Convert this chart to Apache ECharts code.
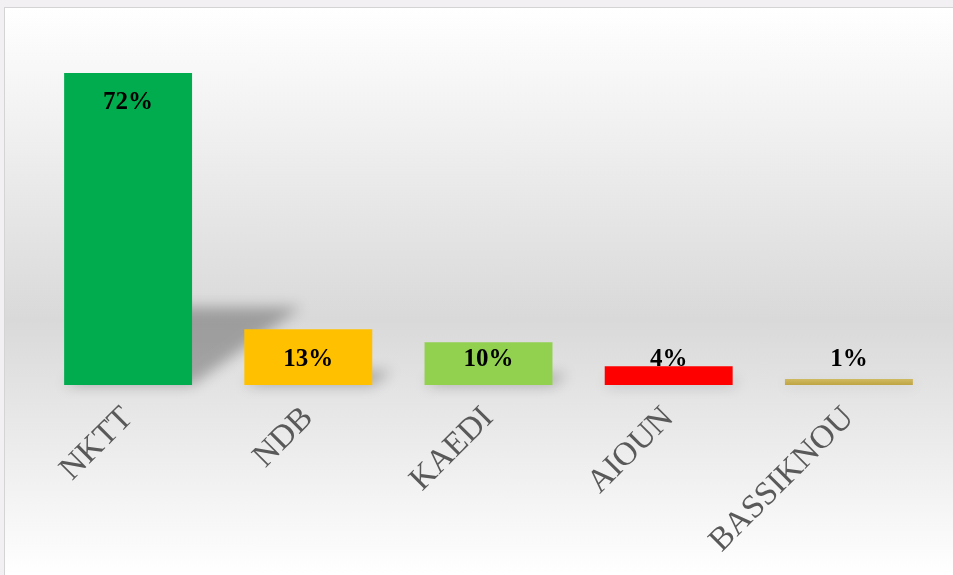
<!DOCTYPE html>
<html>
<head>
<meta charset="utf-8">
<script src="https://cdn.jsdelivr.net/npm/echarts@6/dist/echarts.min.js"></script>
<style>
html,body{margin:0;padding:0;width:953px;height:575px;overflow:hidden;background:#F2F0F3;}
#bg{position:absolute;left:4px;top:7px;right:0;bottom:0;border-left:1px solid #D4D4D4;border-top:1px solid #D4D4D4;
background:linear-gradient(to bottom,#FFFFFF 0%,#D9D9D9 55%,#FFFFFF 100%);}
#chart{position:absolute;left:0;top:0;width:953px;height:575px;}
</style>
</head>
<body>
<div id="bg"></div>
<div id="chart"></div>
<script>
const categories = ['NKTT', 'NDB', 'KAEDI', 'AIOUN', 'BASSIKNOU'];
const values = [71.7, 12.8, 9.8, 4.3, 1.4];
const barColors = ['#00AC4E', '#FFC000', '#92D050', '#FF0000', null];

const chart = echarts.init(document.getElementById('chart'), null, {renderer: 'canvas'});
const OFF = 3000;

const barData = values.map((v, i) => {
  const color = barColors[i] || new echarts.graphic.LinearGradient(0, 0, 0, 1, [
    {offset: 0, color: '#D0BA62'}, {offset: 1, color: '#BFA444'}]);
  return {
    value: v,
    itemStyle: {color: color},
    label: v > 20 ? {position: 'insideTop', distance: 17} : {position: 'insideBottom', distance: 13}
  };
});

chart.setOption({
  backgroundColor: 'transparent',
  animation: false,
  grid: {left: 38, right: 14, top: 37, bottom: 190, containLabel: false},
  xAxis: {
    type: 'category',
    data: categories,
    axisLine: {show: false},
    axisTick: {show: false},
    axisLabel: {
      rotate: 45,
      margin: 28,
      interval: 0,
      color: '#595959',
      fontFamily: 'Liberation Serif',
      fontSize: 33
    }
  },
  yAxis: {
    type: 'value',
    min: 0,
    max: 80,
    show: false,
    splitLine: {show: false}
  },
  series: [
    {
      type: 'custom',
      silent: true,
      z: 1,
      data: values.map((v, i) => [i, v]),
      renderItem: function (params, api) {
        const base = api.coord([api.value(0), 0]);
        const top = api.coord([api.value(0), api.value(1)]);
        const w = api.size([1, 0])[0] * 0.71;
        const h = (base[1] - top[1]) * 0.25;
        const sk = h * 1.4;
        const x0 = base[0] - w / 2 - OFF, x1 = base[0] + w / 2 - OFF, y = base[1];
        return {
          type: 'polygon',
          shape: {points: [[x0, y], [x1, y], [x1 + sk, y - h], [x0 + sk, y - h]]},
          style: {fill: '#000', shadowBlur: 14, shadowColor: 'rgba(0,0,0,0.28)', shadowOffsetX: OFF, shadowOffsetY: 0}
        };
      }
    },
    {
      type: 'bar',
      z: 2,
      barWidth: '71%',
      data: barData,
      label: {
        show: true,
        color: '#000',
        fontFamily: 'Liberation Serif',
        fontWeight: 'bold',
        fontSize: 25,
        formatter: p => Math.round(p.value) + '%'
      }
    }
  ]
});
</script>
</body>
</html>
